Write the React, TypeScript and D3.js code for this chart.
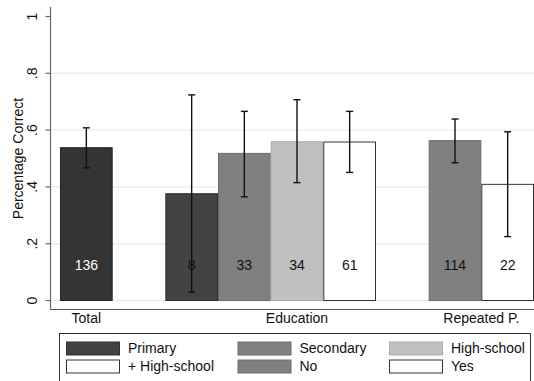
import React from "react";
import * as d3 from "d3";

// Mean share of correct answers by group, with 95% intervals and group sizes
const categories = ["Total", "Primary", "Secondary", "High-school", "+ High-school", "No", "Yes"];
const slots = [0, 2, 3, 4, 5, 7, 8];
const means = [0.538, 0.376, 0.518, 0.559, 0.558, 0.563, 0.409];
const lower = [0.467, 0.029, 0.365, 0.415, 0.451, 0.485, 0.225];
const upper = [0.608, 0.724, 0.666, 0.707, 0.666, 0.639, 0.594];
const counts = [136, 8, 33, 34, 61, 114, 22];

const fills = ["#343434", "#434343", "#808080", "#c0c0c0", "#ffffff", "#808080", "#ffffff"];
const strokes = ["#222222", "#2e2e2e", "#6c6c6c", "#acacac", "#333333", "#6c6c6c", "#333333"];
const countColors = ["#ffffff", "#111111", "#111111", "#111111", "#111111", "#111111", "#111111"];

const groupLabels = ["Total", "Education", "Repeated P."];
const groupAnchors = [0.5, 4.5, 8];

const yTicks = [0, 0.2, 0.4, 0.6, 0.8, 1];
const yTickLabels = ["0", ".2", ".4", ".6", ".8", "1"];
const gridTicks = [0, 0.2, 0.4, 0.6, 0.8];

const legendItems = ["Primary", "Secondary", "High-school", "+ High-school", "No", "Yes"];
const legendFills = ["#434343", "#808080", "#c0c0c0", "#ffffff", "#808080", "#ffffff"];
const legendStrokes = ["#2e2e2e", "#6c6c6c", "#acacac", "#333333", "#6c6c6c", "#333333"];

const W = 534;
const H = 381;
const FONT = "'Liberation Sans', Arial, sans-serif";
const FS = 14;

export default function App() {
  const x = d3.scaleLinear().domain([0, 9]).range([60, 534]);
  const bw = x(1) - x(0);
  const y = d3.scaleLinear().domain([0, 1]).range([300.5, 16.5]);
  const axisX = 50.5;
  const axisBottom = 309.5;

  const legendCols = [66, 237.5, 389];
  const legendRows = [341.5, 359.5];
  const swW = 53;
  const swH = 13;

  return (
    <svg
      width={W}
      height={H}
      style={{ position: "absolute", left: 0, top: 0, background: "#fff" }}
      fontFamily={FONT}
    >
      <rect x={0} y={0} width={W} height={H} fill="#ffffff" />
      {/* grid */}
      {gridTicks.map((t) => (
        <line key={t} x1={axisX} x2={W} y1={y(t)} y2={y(t)} stroke="#ebebeb" strokeWidth={1.4} />
      ))}
      {/* bars */}
      {means.map((m, i) => (
        <rect
          key={categories[i]}
          x={x(slots[i]) + 0.5}
          y={y(m)}
          width={bw - 1}
          height={y(0) - y(m)}
          fill={fills[i]}
          stroke={strokes[i]}
          strokeWidth={1}
        />
      ))}
      {/* counts */}
      {counts.map((c, i) => (
        <text
          key={"c" + i}
          x={x(slots[i] + 0.5)}
          y={270}
          textAnchor="middle"
          fontSize={FS}
          fill={countColors[i]}
        >
          {c}
        </text>
      ))}
      {/* error bars */}
      {means.map((_, i) => {
        const cx = x(slots[i] + 0.5);
        return (
          <g key={"e" + i} stroke="#111" strokeWidth={1.4}>
            <line x1={cx} x2={cx} y1={y(upper[i])} y2={y(lower[i])} />
            <line x1={cx - 3.5} x2={cx + 3.5} y1={y(upper[i])} y2={y(upper[i])} />
            <line x1={cx - 3.5} x2={cx + 3.5} y1={y(lower[i])} y2={y(lower[i])} />
          </g>
        );
      })}
      {/* axes */}
      <line x1={axisX} x2={axisX} y1={7} y2={axisBottom} stroke="#6a6a6a" strokeWidth={1.2} />
      <line x1={axisX} x2={W} y1={axisBottom} y2={axisBottom} stroke="#555" strokeWidth={1.2} />
      {yTicks.map((t, i) => (
        <g key={"t" + t}>
          <line x1={axisX - 5} x2={axisX} y1={y(t)} y2={y(t)} stroke="#6a6a6a" strokeWidth={1.2} />
          <text
            transform={`translate(37,${y(t)}) rotate(-90)`}
            textAnchor="middle"
            fontSize={FS}
            fill="#111"
          >
            {yTickLabels[i]}
          </text>
        </g>
      ))}
      <text
        transform={`translate(22.5,${(y(0) + y(1)) / 2}) rotate(-90)`}
        textAnchor="middle"
        fontSize={FS}
        fill="#111"
      >
        Percentage Correct
      </text>
      {groupLabels.map((g, i) => (
        <text key={g} x={x(groupAnchors[i])} y={323} textAnchor="middle" fontSize={FS} fill="#111">
          {g}
        </text>
      ))}
      {/* legend */}
      <rect x={59.5} y={333.5} width={471} height={60} fill="#fff" stroke="#333" strokeWidth={1} />
      {legendItems.map((name, i) => {
        const col = i % 3;
        const row = Math.floor(i / 3);
        const lx = legendCols[col];
        const ly = legendRows[row];
        return (
          <g key={name}>
            <rect
              x={lx + 0.5}
              y={ly + 0.5}
              width={swW}
              height={swH}
              fill={legendFills[i]}
              stroke={legendStrokes[i]}
              strokeWidth={1}
            />
            <text x={lx + swW + 9} y={ly + 11.5} fontSize={FS} fill="#111">
              {name}
            </text>
          </g>
        );
      })}
    </svg>
  );
}
